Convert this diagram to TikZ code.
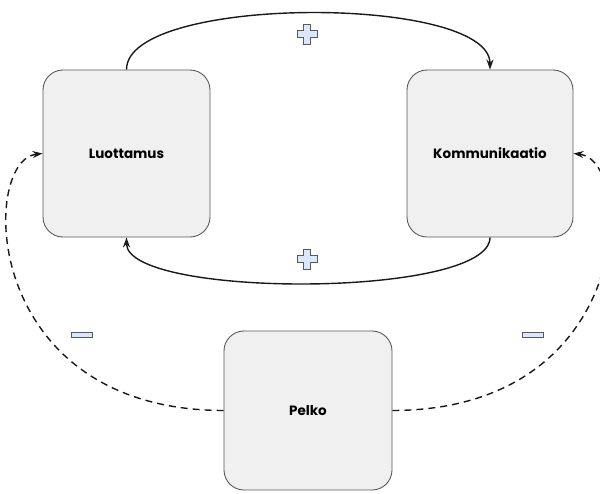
\documentclass[tikz,border=0pt]{standalone}
\usepackage{fontspec}
\setmainfont{Poppins}
\usetikzlibrary{arrows.meta}
\definecolor{signfill}{RGB}{218,232,252}
\begin{document}
\begin{tikzpicture}[x=1pt,y=-1pt,
  box/.style={draw=black!65, line width=0.9pt, fill=black!6, rounded corners=20pt,
    inner sep=0pt, font=\bfseries\fontsize{13.5}{15}\selectfont},
  link/.style={line width=1.4pt, black!90, -{Stealth[length=10pt,width=7pt]}},
  dlink/.style={link, dash pattern=on 7pt off 5pt},
  signshape/.style={draw=black!65, line width=0.9pt, fill=signfill},
  plussign/.pic={\path[signshape] (-3.5,-10) -- (3.5,-10) -- (3.5,-3.5) -- (10,-3.5) -- (10,3.5)
      -- (3.5,3.5) -- (3.5,10) -- (-3.5,10) -- (-3.5,3.5) -- (-10,3.5) -- (-10,-3.5)
      -- (-3.5,-3.5) -- cycle;},
  minussign/.pic={\path[signshape] (-10.5,-2.2) rectangle (10.5,2.2);}
]
\useasboundingbox (0,0) rectangle (600,493);

% the three boxes
\node[box, minimum width=167pt, minimum height=167pt] (L) at (126.5,153.5) {Luottamus};
\node[box, minimum width=166pt, minimum height=167pt] (K) at (490,153.5) {Kommunikaatio};
\node[box, minimum width=168pt, minimum height=159pt] (P) at (308,410.5) {Pelko};

% reinforcing loop between trust and communication
\draw[link] (L.north) .. controls +(0,-75) and +(0,-75) .. (K.north);
\draw[link] (K.south) .. controls +(0,61) and +(0,61) .. (L.south);

% fear weakens both
\draw[dlink] (P.west) .. controls (-20,410) and (-20,160) .. (L.west);
\draw[dlink] (P.east) .. controls (636,410) and (636,160) .. (K.east);

% polarity signs
\pic at (307,34) {plussign};
\pic at (307,259) {plussign};
\pic at (82,335) {minussign};
\pic at (533,335) {minussign};
\end{tikzpicture}
\end{document}
